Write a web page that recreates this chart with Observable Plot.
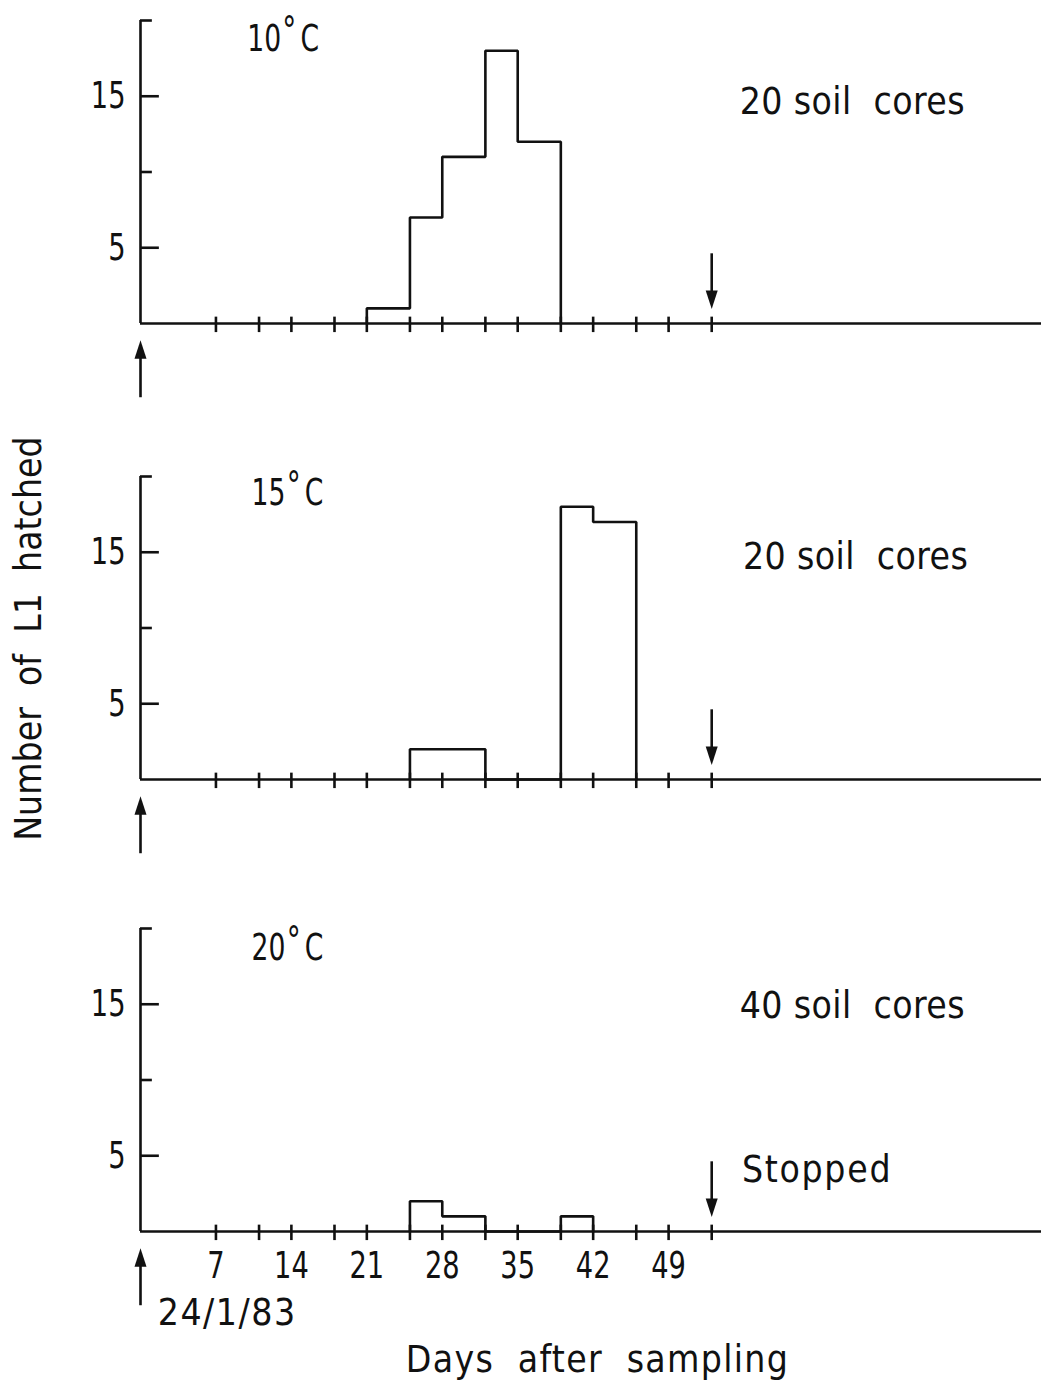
<!DOCTYPE html>
<html>
<head>
<meta charset="utf-8">
<script src="https://cdn.jsdelivr.net/npm/d3@7"></script>
<script src="https://cdn.jsdelivr.net/npm/@observablehq/plot@0.6"></script>
<style>
  body { margin: 0; background: #fff; }
  #chart { position: relative; width: 1041px; height: 1382px; overflow: hidden; }
  #chart > div { position: absolute; left: 0; }
  #chart svg { overflow: visible; display: block; }
</style>
</head>
<body>
<div id="chart"></div>
<script>
// Number of L1 hatched from soil cores incubated at three temperatures,
// counted at each inspection (days after sampling on 24/1/83).
const temperatures = ["10°C", "15°C", "20°C"];
const coreCounts = ["20 soil\u00a0 cores", "20 soil\u00a0 cores", "40 soil\u00a0 cores"];

// inspection-interval edges (days) and L1 hatched within each interval
const edges10 = [21, 25, 28, 32, 35, 39];
const hatched10 = [1, 7, 11, 18, 12];
const edges15 = [25, 32, 39, 42, 46];
const hatched15 = [2, 0, 18, 17];
const edges20 = [25, 28, 32, 39, 42];
const hatched20 = [2, 1, 0, 1];

const inspectionDays = [7, 11, 14, 18, 21, 25, 28, 32, 35, 39, 42, 46, 49, 53];
const dayLabels = [7, 14, 21, 28, 35, 42, 49];
const yLabelled = [5, 15];
const yUnlabelled = [10, 20];
const stopDay = 53;
const startDate = "24/1/83";
const stoppedNote = "Stopped";
const xTitle = "Days\u00a0 after\u00a0 sampling";
const yTitle = "Number\u00a0 of\u00a0 L1\u00a0 hatched";

const FONT = "'DejaVu Sans Condensed', 'DejaVu Sans', sans-serif";
const INK = "#111";
const SW = 2.6;
const FS = 37;

// outline of the histogram as a step line
function stepPoints(edges, counts) {
  const pts = [{day: edges[0], n: 0}];
  counts.forEach((c, i) => pts.push({day: edges[i], n: c}));
  pts.push({day: edges[edges.length - 1], n: 0});
  return pts;
}

// slender filled arrowhead, tip at the origin pointing up
const arrowHead = {
  draw(context, size) {
    const r = Math.sqrt(size / Math.PI);
    context.moveTo(0, 0);
    context.lineTo(-0.6 * r, 1.85 * r);
    context.lineTo(0.6 * r, 1.85 * r);
    context.closePath();
  }
};

function panel({title, cores, edges, counts, height, marginTop, titleAt, coresAt, extra = []}) {
  const marginBottom = height - marginTop - 303;
  return Plot.plot({
    width: 1041,
    height,
    marginLeft: 140,
    marginRight: 0,
    marginTop,
    marginBottom,
    x: {domain: [0, 83.6], axis: null},
    y: {domain: [0, 20], axis: null},
    style: {fontFamily: FONT, fontSize: FS + "px", color: INK, background: "transparent"},
    marks: [
      // axes
      Plot.ruleY([0], {x1: 0, x2: 83.6, stroke: INK, strokeWidth: SW}),
      Plot.ruleX([0], {y1: 0, y2: 20, stroke: INK, strokeWidth: SW}),
      Plot.ruleY(yLabelled, {x1: 0, x2: 1.75, stroke: INK, strokeWidth: SW}),
      Plot.ruleY(yUnlabelled, {x1: 0, x2: 1.1, stroke: INK, strokeWidth: SW}),
      Plot.axisY(yLabelled, {tickSize: 0, tickPadding: 15, label: null, fontSize: FS}),
      Plot.ruleX(inspectionDays, {y1: -0.6, y2: 0.42, stroke: INK, strokeWidth: SW}),
      // histogram outline
      Plot.line(stepPoints(edges, counts), {
        x: "day", y: "n", curve: "step-after",
        stroke: INK, strokeWidth: SW, strokeLinejoin: "miter"
      }),
      // start of incubation (up arrow) and end of incubation (down arrow)
      Plot.ruleX([0], {y1: -4.9, y2: -1.8, stroke: INK, strokeWidth: SW}),
      Plot.dot([0], {x: d => d, y: -1.1, symbol: arrowHead, r: 10, fill: INK}),
      Plot.ruleX([stopDay], {y1: 1.8, y2: 4.6, stroke: INK, strokeWidth: SW}),
      Plot.dot([stopDay], {x: d => d, y: 0.95, symbol: arrowHead, r: 10, rotate: 180, fill: INK}),
      // annotations
      Plot.text([title], {x: titleAt[0], y: titleAt[1], text: d => d, textAnchor: "start", lineAnchor: "bottom", fontSize: FS}),
      Plot.text([cores], {x: coresAt[0], y: coresAt[1], text: d => d, textAnchor: "start", lineAnchor: "bottom", fontSize: FS}),
      ...extra
    ]
  });
}

// narrow the lettering of a label horizontally about its anchor point
function condense(text, k) {
  const tr = text.getAttribute("transform") || "";
  text.setAttribute("transform", `${tr} scale(${k},1)`);
}

// lettering: spacing per label, narrow numerals, raised degree sign
function letter(svg) {
  d3.select(svg).selectAll("text").each(function () {
    const t = this.textContent;
    if (t.includes("°")) {
      const [num, unit] = t.split("°");
      const sel = d3.select(this).text(null);
      sel.append("tspan").text(num);
      sel.append("tspan").attr("dy", "-0.17em").attr("dx", "0.04em").attr("font-size", "1.05em").text("°");
      sel.append("tspan").attr("dy", "0.18em").attr("dx", "0.14em").text(unit);
      condense(this, 0.8);
    } else if (t === startDate) {
      this.style.letterSpacing = "1.5px";
    } else if (t === xTitle) {
      this.style.letterSpacing = "1.3px";
    } else if (t === stoppedNote) {
      this.style.letterSpacing = "1.7px";
    } else if (t.includes("cores")) {
      this.style.letterSpacing = "0.4px";
    } else if (/^\d+$/.test(t)) {
      condense(this, 0.82);
    }
  });
  return svg;
}

const specs = [
  {
    top: 0,
    title: temperatures[0], cores: coreCounts[0], edges: edges10, counts: hatched10,
    height: 453, marginTop: 20, titleAt: [9.9, 18.0], coresAt: [55.6, 13.8]
  },
  {
    top: 453,
    title: temperatures[1], cores: coreCounts[1], edges: edges15, counts: hatched15,
    height: 453, marginTop: 23, titleAt: [10.3, 18.1], coresAt: [55.9, 13.9],
    extra: [
      Plot.text([yTitle], {x: -10.3, y: 9.3, text: d => d, rotate: -90, textAnchor: "middle", lineAnchor: "middle", fontSize: FS})
    ]
  },
  {
    top: 906,
    title: temperatures[2], cores: coreCounts[2], edges: edges20, counts: hatched20,
    height: 476, marginTop: 22, titleAt: [10.3, 17.9], coresAt: [55.6, 14.1],
    extra: [
      Plot.axisX(dayLabels, {tickSize: 0, tickPadding: 20, label: null, fontSize: FS}),
      Plot.text([stoppedNote], {x: 55.8, y: 3.3, text: d => d, textAnchor: "start", lineAnchor: "bottom", fontSize: FS}),
      Plot.text([startDate], {x: 1.6, y: -6.2, text: d => d, textAnchor: "start", lineAnchor: "bottom", fontSize: FS}),
      Plot.text([xTitle], {x: 42.4, y: -9.3, text: d => d, textAnchor: "middle", lineAnchor: "bottom", fontSize: FS})
    ]
  }
];

const chart = document.getElementById("chart");
for (const s of specs) {
  const holder = document.createElement("div");
  holder.style.top = s.top + "px";
  holder.appendChild(letter(panel(s)));
  chart.appendChild(holder);
}
</script>
</body>
</html>
